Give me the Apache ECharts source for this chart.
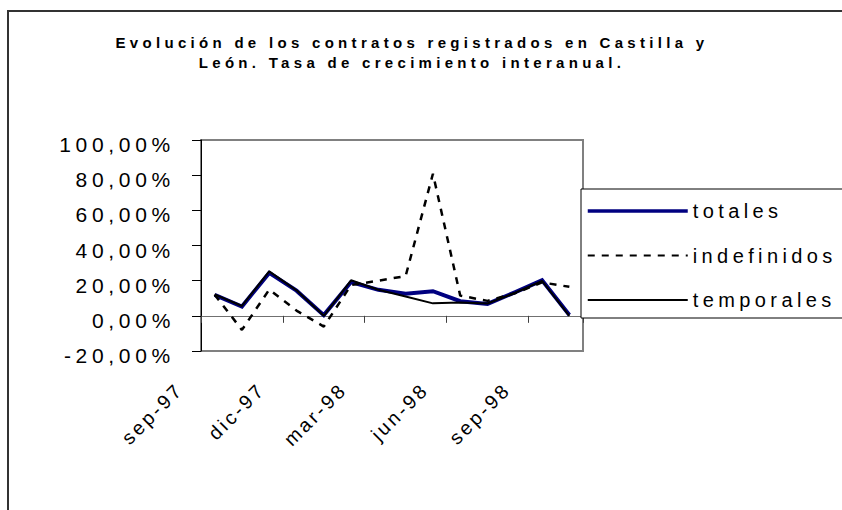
<!DOCTYPE html>
<html>
<head>
<meta charset="utf-8">
<script src="https://cdn.jsdelivr.net/npm/echarts@6/dist/echarts.min.js"></script>
<style>
  html, body { margin: 0; padding: 0; background: #fff; }
  #chart { width: 842px; height: 510px; }
  #chart text { letter-spacing: 4.7px; }
  #chart text[style*="bold"] { letter-spacing: 4.3px; }
  #chart text[style*="19.5px"] { letter-spacing: 3px; }
  #chart text[style*="20px"] { letter-spacing: 4.4px; }
</style>
</head>
<body>
<div id="chart"></div>
<script>
const categories = ['sep-97','oct-97','nov-97','dic-97','ene-98','feb-98','mar-98','abr-98','may-98','jun-98','jul-98','ago-98','sep-98','oct-98'];
const totales     = [11.9, 5.3, 24.4, 14.3, 0.4, 19.2, 14.8, 12.6, 14.0, 8.3, 6.8, 13.3, 20.2, 0.5];
const indefinidos = [12.0, -8.0, 14.9, 3.0, -6.1, 17.5, 20.0, 22.6, 80.8, 11.5, 8.5, 12.8, 19.0, 16.5];
const temporales  = [12.2, 5.6, 25.3, 14.5, 0.0, 20.2, 14.8, 11.0, 7.1, 7.6, 7.0, 13.0, 19.9, 0.0];
const yTicks = { min: -20, max: 100, interval: 20 };
const seriesNames = ['totales', 'indefinidos', 'temporales'];
const titleText = 'Evolución de los contratos registrados en Castilla y\nLeón. Tasa de crecimiento interanual.';

const FONT = '"Liberation Sans", Arial, sans-serif';
const chart = echarts.init(document.getElementById('chart'), null, { renderer: 'svg' });

const fmtPct = v => v.toFixed(2).replace('.', ',') + '%';

chart.setOption({
  animation: false,
  backgroundColor: '#ffffff',
  title: {
    text: titleText,
    left: 412,
    top: 32,
    textAlign: 'center',
    padding: 0,
    textStyle: { fontFamily: FONT, fontSize: 15, fontWeight: 'bold', color: '#000', lineHeight: 20 }
  },
  graphic: [{
    type: 'rect', silent: true, z: -1,
    shape: { x: 8, y: 11, width: 900, height: 600 },
    style: { fill: 'none', stroke: '#333333', lineWidth: 2 }
  }],
  legend: {
    orient: 'vertical',
    left: 581,
    top: 189,
    padding: [12, 90, 8, 5],
    itemWidth: 100,
    itemHeight: 14,
    itemGap: 24.5,
    borderColor: '#000',
    borderWidth: 1,
    backgroundColor: '#fff',
    itemStyle: { color: 'transparent', borderWidth: 0, opacity: 0 },
    textStyle: { fontFamily: FONT, fontSize: 20, color: '#000' },
    data: [
      { name: seriesNames[0], lineStyle: { width: 3.5 } },
      { name: seriesNames[1] },
      { name: seriesNames[2] }
    ]
  },
  grid: [
    { left: 201, right: 259, top: 140, bottom: 159, show: true, borderColor: '#808080', borderWidth: 2, backgroundColor: '#fff' },
    { left: 166, right: 294, top: 140, bottom: 159, show: false }
  ],
  xAxis: [
    {
      type: 'category', gridIndex: 0, data: categories, boundaryGap: true,
      axisLine: { onZero: true, lineStyle: { color: '#707070', width: 1 } },
      axisTick: { show: true, interval: 2, length: 7, lineStyle: { color: '#404040', width: 1 } },
      axisLabel: { show: false },
      splitLine: { show: false }
    },
    {
      type: 'category', gridIndex: 1, data: categories, boundaryGap: true,
      axisLine: { show: false }, axisTick: { show: false }, splitLine: { show: false },
      axisLabel: { show: true, interval: 2, rotate: 45, margin: 35, fontFamily: FONT, fontSize: 19.5, color: '#000' }
    }
  ],
  yAxis: [
    {
      type: 'value', gridIndex: 0, min: yTicks.min, max: yTicks.max, interval: yTicks.interval,
      axisLine: { show: true, lineStyle: { color: '#000', width: 1 } },
      axisTick: { show: true, length: 9, lineStyle: { color: '#000', width: 1 } },
      splitLine: { show: false },
      axisLabel: { formatter: fmtPct, margin: 26, fontFamily: FONT, fontSize: 21, color: '#000', verticalAlign: 'top', lineHeight: 9 }
    },
    {
      type: 'value', gridIndex: 1, min: yTicks.min, max: yTicks.max, show: false
    }
  ],
  series: [
    {
      name: seriesNames[0], type: 'line', data: totales, xAxisIndex: 0, yAxisIndex: 0,
      symbol: 'none', color: '#000080',
      lineStyle: { color: '#000080', width: 4, cap: 'butt', join: 'miter' }, z: 2
    },
    {
      name: seriesNames[1], type: 'line', data: indefinidos, xAxisIndex: 0, yAxisIndex: 0,
      symbol: 'none', color: '#000',
      lineStyle: { color: '#000', width: 2.5, type: [7, 7] }, z: 3
    },
    {
      name: seriesNames[2], type: 'line', data: temporales, xAxisIndex: 0, yAxisIndex: 0,
      symbol: 'none', color: '#000',
      lineStyle: { color: '#000', width: 2 }, z: 4
    }
  ]
});
</script>
</body>
</html>
